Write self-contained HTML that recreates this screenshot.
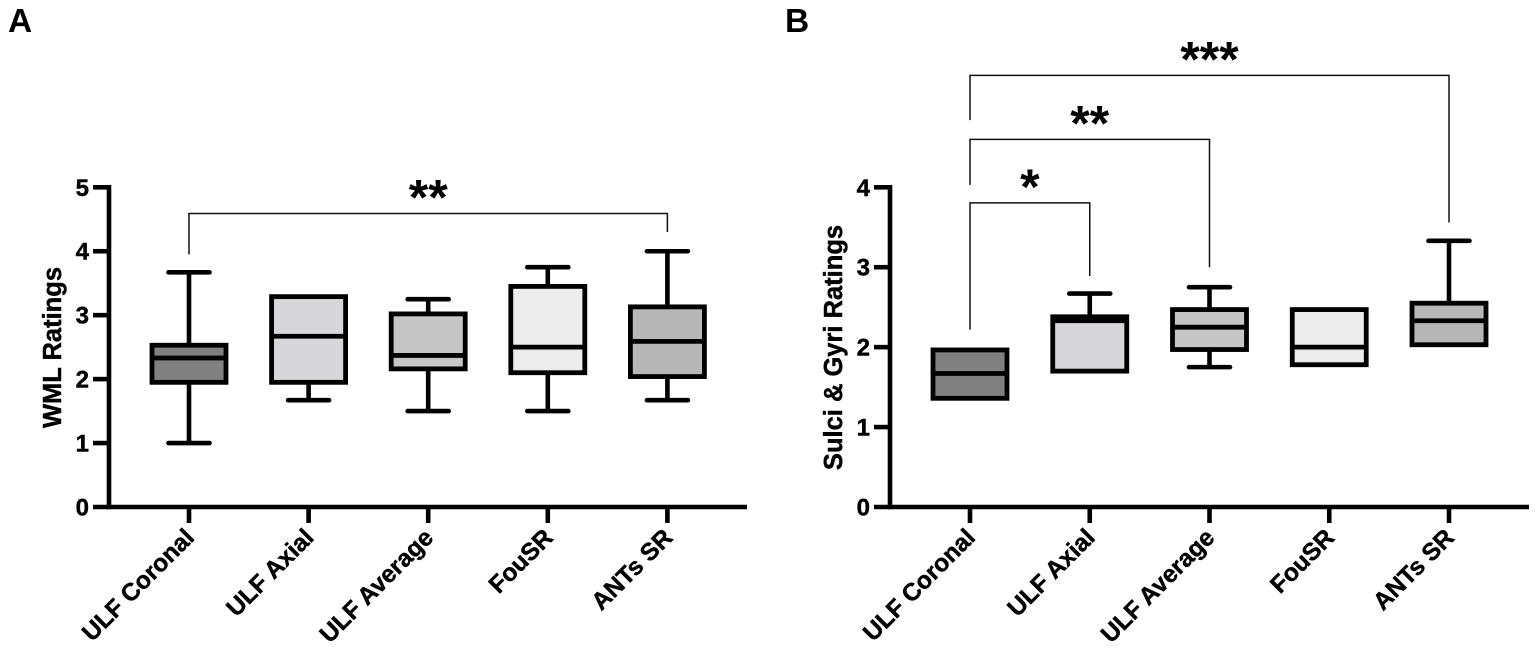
<!DOCTYPE html>
<html lang="en">
<head>
<meta charset="utf-8">
<title>WML and Sulci &amp; Gyri Ratings</title>
<style>
html,body{margin:0;padding:0;background:#fff;width:1535px;height:652px;overflow:hidden}
svg{display:block;font-family:"Liberation Sans",Arial,sans-serif;font-weight:bold}
</style>
</head>
<body>
<svg id="figure" xmlns="http://www.w3.org/2000/svg" width="1535" height="652" viewBox="0 0 1535 652">
  <rect x="0" y="0" width="1535" height="652" fill="#fff"/>
  <text x="8" y="32" font-size="33.5">A</text>
  <text x="785" y="32" font-size="33.5">B</text>
  <g id="panel-a"></g>
  <g id="panel-b"></g>
</svg>
<script>
// Shared categories
const categories = ['ULF Coronal', 'ULF Axial', 'ULF Average', 'FouSR', 'ANTs SR'];

// Panel A values
const aTicks = [0, 1, 2, 3, 4, 5];
const aWhiskerLow = [1.0, 1.67, 1.5, 1.5, 1.67];
const aQ1 = [1.95, 1.95, 2.16, 2.1, 2.04];
const aMedian = [2.33, 2.67, 2.37, 2.5, 2.59];
const aQ3 = [2.53, 3.29, 3.02, 3.45, 3.13];
const aWhiskerHigh = [3.67, 3.29, 3.25, 3.75, 4.0];
const aBracketFrom = [0];
const aBracketTo = [4];
const aBracketLevel = [4.59];
const aBracketFromEnd = [3.95];
const aBracketToEnd = [4.3];
const aBracketStars = ['**'];

// Panel B values
const bTicks = [0, 1, 2, 3, 4];
const bWhiskerLow = [1.36, 1.70, 1.75, 1.78, 2.03];
const bQ1 = [1.36, 1.70, 1.97, 1.78, 2.03];
const bMedian = [1.67, 2.33, 2.25, 2.0, 2.33];
const bQ3 = [1.965, 2.38, 2.47, 2.47, 2.55];
const bWhiskerHigh = [1.965, 2.67, 2.75, 2.47, 3.33];
const bBracketFrom = [0, 0, 0];
const bBracketTo = [1, 2, 4];
const bBracketLevel = [3.805, 4.6, 5.4];
const bBracketFromEnd = [2.22, 4.03, 4.84];
const bBracketToEnd = [2.89, 3.0, 3.56];
const bBracketStars = ['*', '**', '***'];

const fills = ['#808080', '#d7d7d9', '#c6c6c6', '#ececec', '#b7b7b7'];
const NS = 'http://www.w3.org/2000/svg';

function mk(tag, attrs, parent) {
  const el = document.createElementNS(NS, tag);
  for (const k in attrs) el.setAttribute(k, attrs[k]);
  parent.appendChild(el);
  return el;
}

function drawPanel(p) {
  const root = document.getElementById(p.id);
  const y = v => p.y0 - (v / p.yMax) * (p.y0 - p.yTop);
  const x = i => p.x0 + i * p.step;
  const HW = 37, CAP = 20.5;
  const LW = 4.6;
  const bold = {stroke: '#000', 'stroke-width': 0.45};

  // Y axis
  const yAxis = mk('line', {x1: p.axisX, x2: p.axisX, y1: y(p.yMax) - 2.3, y2: p.y0 + 2.3, stroke: '#000', 'stroke-width': LW}, root);
  
  
  // X axis
  const xAxis = mk('line', {x1: p.axisX - 16, x2: p.xEnd, y1: p.y0, y2: p.y0, stroke: '#000', 'stroke-width': LW}, root);
  
  

  // Y ticks
  p.ticks.forEach(t => {
    if (t !== 0) {
      const tk = mk('line', {x1: p.axisX - 16, x2: p.axisX, y1: y(t), y2: y(t), stroke: '#000', 'stroke-width': LW}, root);
      
      
    }
    const lb = mk('text', Object.assign({x: p.axisX - 20, y: y(t) + 8.5, 'text-anchor': 'end', 'font-size': 24}, bold), root);
    lb.textContent = String(t);
    
    
  });

  // Y title
  const title = mk('text', Object.assign({transform: 'translate(' + p.titleX + ' 347.5) rotate(-90)', 'text-anchor': 'middle', 'font-size': 25.5}, bold), root);
  title.textContent = p.title;
  
  

  // Categories
  categories.forEach((c, i) => {
    const cx = x(i);
    const tk = mk('line', {x1: cx, x2: cx, y1: p.y0, y2: 523, stroke: '#000', 'stroke-width': LW}, root);
    
    

    const lb = mk('text', Object.assign({transform: 'translate(' + (cx + 6.5) + ' 539) rotate(-45)', 'text-anchor': 'end', 'font-size': 24.4}, bold), root);
    lb.textContent = c;
    
    

    const g = mk('g', {}, root);
    
    

    if (p.high[i] > p.q3[i]) {
      const w = mk('line', {x1: cx, x2: cx, y1: y(p.high[i]), y2: y(p.q3[i]), stroke: '#000', 'stroke-width': LW}, g);
      
      
      const cap = mk('line', {x1: cx - CAP, x2: cx + CAP, y1: y(p.high[i]), y2: y(p.high[i]), stroke: '#000', 'stroke-width': LW, 'stroke-linecap': 'round'}, g);
      
      
    }
    if (p.low[i] < p.q1[i]) {
      const w = mk('line', {x1: cx, x2: cx, y1: y(p.q1[i]), y2: y(p.low[i]), stroke: '#000', 'stroke-width': LW}, g);
      
      
      const cap = mk('line', {x1: cx - CAP, x2: cx + CAP, y1: y(p.low[i]), y2: y(p.low[i]), stroke: '#000', 'stroke-width': LW, 'stroke-linecap': 'round'}, g);
      
      
    }
    const box = mk('rect', {x: cx - HW, width: 2 * HW, y: y(p.q3[i]), height: y(p.q1[i]) - y(p.q3[i]), fill: fills[i], stroke: '#000', 'stroke-width': 4.8}, g);
    
    
    const med = mk('line', {x1: cx - HW, x2: cx + HW, y1: y(p.median[i]), y2: y(p.median[i]), stroke: '#000', 'stroke-width': 4.8}, g);
    
    
  });

  // Significance brackets
  p.brFrom.forEach((f, i) => {
    const xa = x(f), xb = x(p.brTo[i]), yl = y(p.brLevel[i]);
    const br = mk('path', {d: 'M' + xa + ' ' + y(p.brFromEnd[i]) + 'V' + yl + 'H' + xb + 'V' + y(p.brToEnd[i]), fill: 'none', stroke: '#111', 'stroke-width': 1.5}, root);
    
    
    const st = mk('text', {x: (xa + xb) / 2, y: yl + 1, 'text-anchor': 'middle', 'font-size': 50}, root);
    st.textContent = p.brStars[i];
    
    
  });
}

drawPanel({
  id: 'panel-a', title: 'WML Ratings', titleX: 61, axisX: 109, xEnd: 747,
  y0: 507, yTop: 187.3, yMax: 5, x0: 189, step: 119.6, ticks: aTicks,
  low: aWhiskerLow, q1: aQ1, median: aMedian, q3: aQ3, high: aWhiskerHigh,
  brFrom: aBracketFrom, brTo: aBracketTo, brLevel: aBracketLevel,
  brFromEnd: aBracketFromEnd, brToEnd: aBracketToEnd, brStars: aBracketStars
});
drawPanel({
  id: 'panel-b', title: 'Sulci & Gyri Ratings', titleX: 842, axisX: 890, xEnd: 1529,
  y0: 507, yTop: 187.3, yMax: 4, x0: 970, step: 119.75, ticks: bTicks,
  low: bWhiskerLow, q1: bQ1, median: bMedian, q3: bQ3, high: bWhiskerHigh,
  brFrom: bBracketFrom, brTo: bBracketTo, brLevel: bBracketLevel,
  brFromEnd: bBracketFromEnd, brToEnd: bBracketToEnd, brStars: bBracketStars
});
</script>
</body>
</html>
